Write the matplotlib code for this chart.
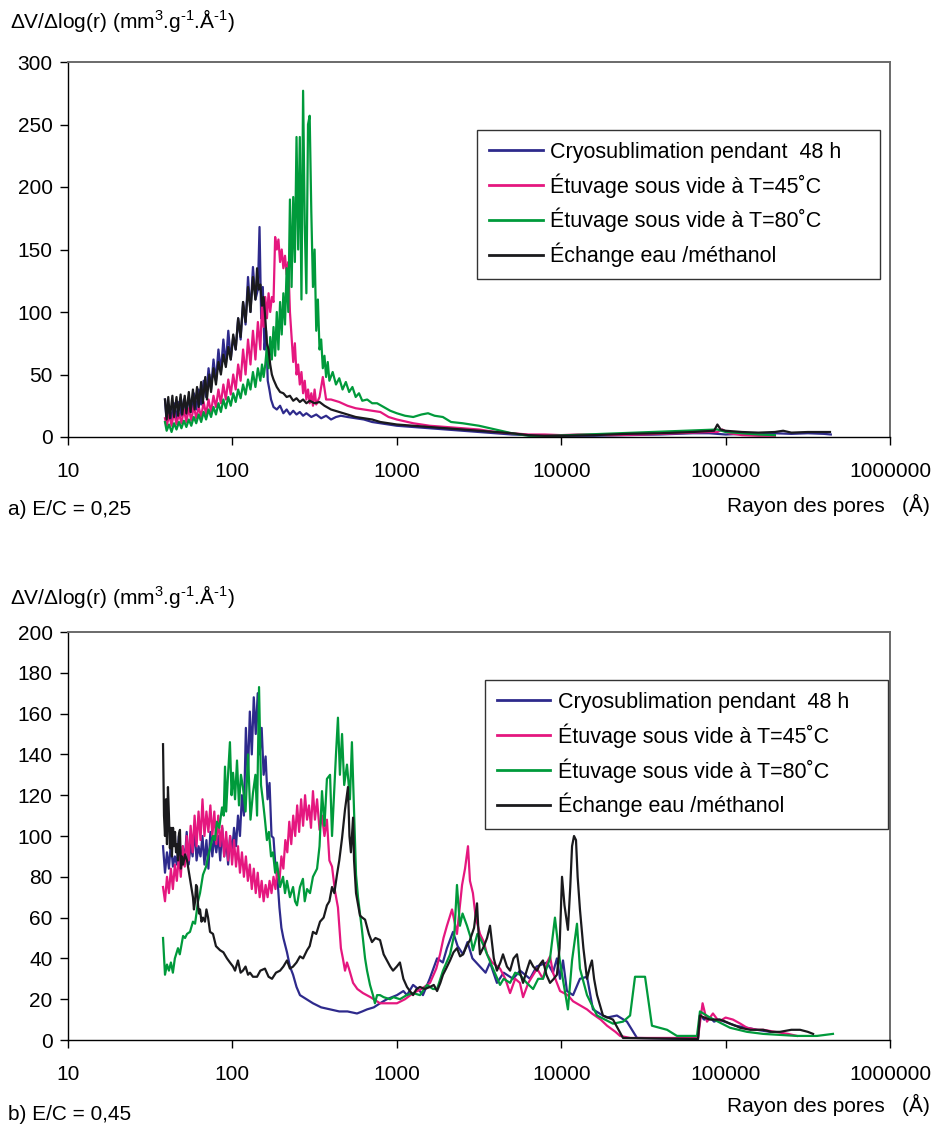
import numpy as np
import matplotlib
matplotlib.use("Agg")
import matplotlib.pyplot as plt
from matplotlib.ticker import FixedLocator, FuncFormatter, NullLocator

plt.rcParams["font.family"] = ["Liberation Sans", "DejaVu Sans"]
plt.rcParams["mathtext.default"] = "regular"

# ── Data: (log10 of pore radius in Å, dV/dlog(r)) ────────────────────────────
# a) E/C = 0.25
a_cryo = np.array([
    (1.59, 30), (1.60, 12), (1.615, 25), (1.63, 14), (1.645, 27), (1.66, 15), (1.675, 28), (1.69, 17),
    (1.705, 30), (1.72, 18), (1.735, 32), (1.75, 20), (1.765, 35), (1.78, 22), (1.795, 38), (1.81, 26),
    (1.825, 45), (1.84, 32), (1.855, 55), (1.87, 38), (1.885, 62), (1.90, 45), (1.915, 70), (1.93, 52),
    (1.945, 78), (1.96, 58), (1.975, 85), (1.99, 62), (2.005, 80), (2.02, 70), (2.035, 95), (2.05, 78),
    (2.065, 108), (2.08, 90), (2.095, 128), (2.11, 100), (2.125, 136), (2.14, 110), (2.155, 118),
    (2.165, 168), (2.175, 95), (2.185, 120), (2.195, 70), (2.205, 85), (2.215, 45), (2.225, 38),
    (2.235, 30), (2.25, 24), (2.27, 22), (2.29, 25), (2.31, 19), (2.33, 22), (2.35, 18), (2.37, 21),
    (2.39, 18), (2.41, 20), (2.43, 17), (2.45, 19), (2.48, 16), (2.51, 18), (2.54, 15), (2.57, 17),
    (2.60, 14), (2.63, 16), (2.66, 17), (2.70, 16), (2.75, 15), (2.80, 14), (2.85, 12), (2.90, 11),
    (2.95, 10), (3.0, 9), (3.1, 8), (3.2, 7), (3.3, 6), (3.4, 5), (3.5, 4), (3.6, 3), (3.7, 2),
    (3.8, 1.5), (3.9, 1), (4.0, 1), (4.2, 1), (4.4, 1.5), (4.6, 2), (4.8, 3), (4.9, 3), (5.0, 2),
    (5.1, 2.5), (5.2, 2), (5.3, 3), (5.4, 2.5), (5.5, 3), (5.6, 2.5), (5.64, 2),
])
a_t45 = np.array([
    (1.59, 15), (1.60, 8), (1.615, 18), (1.63, 9), (1.645, 20), (1.66, 10), (1.675, 19), (1.69, 11),
    (1.705, 22), (1.72, 12), (1.735, 23), (1.75, 13), (1.765, 25), (1.78, 15), (1.795, 24), (1.81, 16),
    (1.825, 28), (1.84, 18), (1.855, 30), (1.87, 20), (1.885, 33), (1.90, 24), (1.915, 38), (1.93, 27),
    (1.945, 42), (1.96, 30), (1.975, 46), (1.99, 34), (2.005, 50), (2.02, 38), (2.035, 58), (2.05, 45),
    (2.065, 70), (2.08, 50), (2.095, 78), (2.11, 58), (2.125, 85), (2.14, 62), (2.155, 92), (2.17, 70),
    (2.18, 105), (2.19, 88), (2.20, 112), (2.21, 95), (2.22, 115), (2.23, 100), (2.24, 112), (2.25, 108),
    (2.26, 160), (2.27, 150), (2.28, 158), (2.29, 140), (2.30, 150), (2.31, 135), (2.32, 145), (2.33, 130),
    (2.34, 140), (2.35, 100), (2.36, 80), (2.37, 60), (2.38, 75), (2.39, 50), (2.40, 58), (2.41, 42),
    (2.42, 52), (2.43, 35), (2.44, 45), (2.45, 30), (2.46, 38), (2.47, 27), (2.48, 35), (2.49, 25),
    (2.50, 38), (2.51, 26), (2.53, 32), (2.55, 48), (2.57, 30), (2.60, 30), (2.65, 28), (2.70, 25),
    (2.75, 23), (2.80, 22), (2.85, 21), (2.90, 20), (2.95, 16), (3.0, 14), (3.1, 11), (3.2, 9),
    (3.3, 8), (3.4, 7), (3.5, 6), (3.6, 4), (3.7, 3), (3.8, 2), (3.9, 2), (4.0, 1.5), (4.1, 2),
    (4.2, 2), (4.3, 1.5), (4.5, 2), (4.7, 3), (4.9, 4), (4.95, 4), (4.98, 6), (5.02, 3), (5.1, 1.5),
    (5.2, 1), (5.3, 1),
])
a_t80 = np.array([
    (1.59, 12), (1.60, 5), (1.615, 10), (1.63, 4), (1.645, 11), (1.66, 6), (1.675, 12), (1.69, 7),
    (1.705, 13), (1.72, 8), (1.735, 14), (1.75, 9), (1.765, 16), (1.78, 11), (1.795, 18), (1.81, 12),
    (1.825, 20), (1.84, 14), (1.855, 22), (1.87, 16), (1.885, 24), (1.90, 18), (1.915, 27), (1.93, 20),
    (1.945, 30), (1.96, 23), (1.975, 32), (1.99, 25), (2.005, 35), (2.02, 28), (2.035, 38), (2.05, 31),
    (2.065, 42), (2.08, 34), (2.095, 46), (2.11, 38), (2.125, 52), (2.14, 40), (2.155, 55), (2.17, 45),
    (2.18, 58), (2.19, 48), (2.20, 58), (2.21, 72), (2.22, 55), (2.23, 80), (2.24, 62), (2.25, 88),
    (2.26, 65), (2.27, 100), (2.28, 70), (2.29, 108), (2.30, 82), (2.31, 115), (2.32, 90), (2.33, 135),
    (2.34, 100), (2.35, 190), (2.36, 120), (2.37, 192), (2.38, 140), (2.39, 240), (2.40, 150), (2.41, 240),
    (2.42, 110), (2.43, 277), (2.44, 170), (2.45, 115), (2.46, 250), (2.47, 257), (2.48, 180), (2.49, 120),
    (2.50, 150), (2.51, 85), (2.52, 110), (2.53, 70), (2.54, 78), (2.55, 55), (2.56, 65), (2.57, 48),
    (2.58, 60), (2.59, 45), (2.61, 52), (2.63, 42), (2.65, 47), (2.67, 38), (2.69, 44), (2.71, 36),
    (2.73, 40), (2.75, 32), (2.77, 35), (2.79, 29), (2.82, 30), (2.85, 27), (2.88, 27), (2.92, 24),
    (2.96, 21), (3.0, 19), (3.05, 17), (3.1, 16), (3.15, 18), (3.19, 19), (3.23, 17), (3.28, 16),
    (3.33, 12), (3.4, 11), (3.5, 9), (3.6, 6), (3.7, 3), (3.8, 1), (3.85, 0.5), (4.95, 6), (5.0, 4),
    (5.1, 3), (5.2, 2), (5.3, 1.5),
])
a_meoh = np.array([
    (1.59, 30), (1.60, 14), (1.61, 32), (1.62, 15), (1.635, 33), (1.645, 16), (1.66, 32), (1.67, 17),
    (1.685, 34), (1.695, 18), (1.71, 33), (1.72, 19), (1.735, 36), (1.745, 20), (1.76, 38), (1.77, 22),
    (1.785, 40), (1.795, 24), (1.81, 44), (1.82, 27), (1.835, 48), (1.845, 30), (1.86, 50), (1.87, 36),
    (1.885, 55), (1.90, 42), (1.915, 60), (1.93, 50), (1.945, 66), (1.96, 56), (1.975, 72), (1.99, 62),
    (2.005, 82), (2.02, 70), (2.035, 95), (2.05, 80), (2.065, 108), (2.08, 92), (2.095, 120), (2.11, 100),
    (2.125, 128), (2.14, 110), (2.15, 135), (2.16, 118), (2.17, 122), (2.18, 105), (2.19, 112), (2.20, 95),
    (2.21, 75), (2.22, 70), (2.23, 58), (2.24, 50), (2.25, 46), (2.27, 40), (2.29, 36), (2.31, 35),
    (2.33, 32), (2.35, 33), (2.37, 29), (2.39, 31), (2.41, 28), (2.43, 30), (2.45, 27), (2.47, 29),
    (2.50, 27), (2.53, 28), (2.56, 25), (2.60, 22), (2.65, 20), (2.70, 18), (2.75, 16), (2.80, 15),
    (2.85, 14), (2.90, 12), (2.95, 11), (3.0, 10), (3.1, 9), (3.2, 8), (3.3, 7), (3.4, 6), (3.5, 5),
    (3.6, 4), (3.7, 3), (3.8, 1.5), (3.9, 1), (4.0, 1), (4.2, 1.5), (4.4, 2.5), (4.6, 3), (4.8, 4),
    (4.93, 5), (4.95, 10), (4.97, 6), (5.0, 5), (5.1, 4), (5.2, 3.5), (5.3, 4), (5.35, 5), (5.4, 3.5),
    (5.5, 4), (5.6, 4), (5.635, 4),
])

# b) E/C = 0.45
b_cryo = np.array([
    (1.578, 95), (1.59, 82), (1.602, 92), (1.614, 84), (1.626, 97), (1.638, 85), (1.65, 90), (1.662, 86),
    (1.674, 100), (1.686, 84), (1.698, 95), (1.71, 88), (1.722, 102), (1.734, 86), (1.746, 96), (1.758, 90),
    (1.77, 104), (1.782, 88), (1.794, 95), (1.806, 90), (1.818, 100), (1.83, 86), (1.842, 98), (1.854, 84),
    (1.866, 102), (1.878, 90), (1.89, 100), (1.902, 92), (1.914, 100), (1.926, 88), (1.938, 104), (1.95, 90),
    (1.962, 98), (1.974, 86), (1.986, 100), (1.998, 92), (2.01, 104), (2.022, 95), (2.034, 110), (2.046, 100),
    (2.058, 120), (2.07, 110), (2.082, 153), (2.094, 128), (2.106, 161), (2.118, 140), (2.13, 168), (2.142, 150),
    (2.154, 170), (2.166, 140), (2.178, 153), (2.19, 130), (2.202, 139), (2.214, 118), (2.226, 126), (2.238, 100),
    (2.25, 99), (2.262, 85), (2.274, 79), (2.286, 65), (2.298, 55), (2.31, 50), (2.332, 43), (2.35, 36),
    (2.369, 32), (2.39, 26), (2.411, 22), (2.45, 20), (2.49, 18), (2.54, 16), (2.594, 15), (2.65, 14),
    (2.70, 14), (2.758, 13), (2.79, 14), (2.819, 15), (2.86, 16), (2.898, 18), (2.94, 20), (3.001, 22),
    (3.04, 24), (3.062, 22), (3.099, 27), (3.13, 25), (3.159, 22), (3.20, 30), (3.245, 40), (3.28, 38),
    (3.305, 45), (3.342, 53), (3.37, 46), (3.403, 42), (3.43, 48), (3.46, 40), (3.506, 36), (3.54, 33),
    (3.567, 38), (3.609, 28), (3.65, 33), (3.707, 30), (3.75, 34), (3.81, 30), (3.85, 36), (3.914, 38),
    (3.95, 33), (3.974, 40), (3.993, 30), (4.011, 39), (4.035, 24), (4.072, 22), (4.114, 30), (4.157, 31),
    (4.193, 15), (4.254, 12), (4.279, 11), (4.339, 12), (4.40, 9), (4.461, 1), (4.832, 0.5), (4.844, 12),
    (4.87, 10), (4.905, 11), (4.93, 9), (4.96, 10), (5.027, 8), (5.06, 7), (5.13, 6), (5.19, 5), (5.27, 4),
])
b_t45 = np.array([
    (1.578, 75), (1.59, 68), (1.602, 80), (1.614, 72), (1.626, 84), (1.638, 74), (1.65, 86), (1.662, 78),
    (1.674, 90), (1.686, 80), (1.698, 95), (1.71, 85), (1.722, 100), (1.734, 88), (1.746, 105), (1.758, 92),
    (1.77, 110), (1.782, 95), (1.794, 112), (1.806, 98), (1.818, 118), (1.83, 100), (1.842, 112), (1.854, 102),
    (1.866, 115), (1.878, 100), (1.89, 112), (1.902, 96), (1.914, 110), (1.926, 95), (1.938, 105), (1.95, 90),
    (1.962, 102), (1.974, 88), (1.986, 100), (1.998, 86), (2.01, 98), (2.022, 85), (2.034, 95), (2.046, 82),
    (2.058, 92), (2.07, 80), (2.082, 90), (2.094, 78), (2.106, 86), (2.118, 74), (2.13, 84), (2.142, 72),
    (2.154, 82), (2.166, 70), (2.178, 78), (2.19, 68), (2.202, 76), (2.214, 70), (2.226, 78), (2.238, 72),
    (2.25, 80), (2.262, 74), (2.274, 84), (2.286, 78), (2.298, 90), (2.31, 84), (2.322, 98), (2.334, 92),
    (2.346, 107), (2.358, 96), (2.37, 110), (2.382, 100), (2.394, 115), (2.406, 102), (2.418, 118), (2.43, 105),
    (2.442, 120), (2.454, 108), (2.466, 115), (2.478, 104), (2.49, 122), (2.502, 108), (2.515, 118), (2.53, 103),
    (2.545, 110), (2.56, 100), (2.575, 108), (2.59, 88), (2.606, 85), (2.624, 73), (2.642, 65), (2.66, 45),
    (2.672, 40), (2.685, 34), (2.697, 38), (2.709, 35), (2.734, 28), (2.76, 25), (2.794, 23), (2.84, 21),
    (2.898, 18), (2.95, 18), (3.001, 18), (3.05, 20), (3.099, 23), (3.15, 25), (3.202, 28), (3.24, 35),
    (3.263, 42), (3.284, 50), (3.305, 56), (3.336, 64), (3.366, 52), (3.397, 76), (3.415, 84), (3.433, 95),
    (3.445, 78), (3.463, 72), (3.48, 60), (3.506, 52), (3.53, 48), (3.549, 42), (3.58, 38), (3.628, 35),
    (3.66, 30), (3.689, 23), (3.72, 30), (3.749, 28), (3.768, 21), (3.80, 28), (3.853, 35), (3.889, 30),
    (3.914, 38), (3.932, 41), (3.95, 33), (3.993, 24), (4.04, 22), (4.072, 19), (4.114, 17), (4.157, 15),
    (4.187, 13), (4.24, 10), (4.279, 7), (4.33, 4), (4.358, 2), (4.42, 1), (4.832, 1), (4.86, 18),
    (4.887, 9), (4.923, 13), (4.96, 9), (5.0, 11), (5.045, 10), (5.09, 8), (5.13, 6), (5.19, 5),
    (5.23, 5), (5.3, 4), (5.38, 3), (5.434, 2),
])
b_t80 = np.array([
    (1.578, 50), (1.59, 32), (1.602, 37), (1.614, 34), (1.626, 38), (1.638, 33), (1.65, 40), (1.669, 45),
    (1.68, 42), (1.70, 51), (1.712, 50), (1.724, 52), (1.742, 53), (1.76, 58), (1.773, 57), (1.791, 68),
    (1.803, 72), (1.821, 81), (1.84, 85), (1.852, 90), (1.864, 94), (1.882, 100), (1.894, 98), (1.906, 107),
    (1.92, 104), (1.937, 114), (1.947, 110), (1.955, 134), (1.962, 112), (1.972, 128), (1.985, 146), (1.995, 120),
    (2.004, 131), (2.016, 118), (2.028, 137), (2.04, 115), (2.052, 130), (2.064, 124), (2.08, 112), (2.095, 140),
    (2.11, 108), (2.125, 121), (2.14, 130), (2.15, 110), (2.162, 173), (2.174, 125), (2.186, 117), (2.198, 108),
    (2.21, 98), (2.222, 102), (2.235, 90), (2.247, 92), (2.26, 82), (2.271, 87), (2.29, 75), (2.308, 80),
    (2.32, 72), (2.332, 78), (2.35, 70), (2.369, 75), (2.381, 68), (2.393, 66), (2.411, 75), (2.429, 79),
    (2.44, 68), (2.454, 74), (2.472, 72), (2.49, 80), (2.515, 84), (2.53, 95), (2.545, 122), (2.56, 105),
    (2.575, 128), (2.594, 130), (2.606, 100), (2.618, 120), (2.63, 140), (2.642, 158), (2.654, 130), (2.667, 150),
    (2.68, 125), (2.697, 135), (2.715, 118), (2.727, 146), (2.74, 113), (2.752, 81), (2.764, 70), (2.788, 54),
    (2.807, 40), (2.819, 34), (2.837, 27), (2.855, 22), (2.867, 18), (2.88, 22), (2.898, 22), (2.92, 21),
    (2.959, 20), (2.98, 21), (3.019, 20), (3.06, 22), (3.099, 23), (3.141, 22), (3.184, 27), (3.22, 25),
    (3.245, 25), (3.281, 34), (3.324, 42), (3.35, 52), (3.366, 76), (3.384, 56), (3.40, 62), (3.427, 56),
    (3.45, 50), (3.463, 44), (3.49, 52), (3.506, 50), (3.53, 46), (3.549, 42), (3.585, 35), (3.628, 27),
    (3.65, 30), (3.689, 28), (3.72, 33), (3.749, 32), (3.79, 28), (3.829, 25), (3.86, 30), (3.889, 30),
    (3.932, 40), (3.962, 60), (3.993, 38), (4.041, 15), (4.066, 39), (4.096, 57), (4.114, 35), (4.157, 22),
    (4.218, 12), (4.315, 8), (4.376, 9), (4.419, 12), (4.449, 31), (4.51, 31), (4.552, 7), (4.644, 5),
    (4.704, 2), (4.826, 2), (4.844, 14), (4.905, 11), (5.027, 6), (5.13, 4), (5.228, 3), (5.434, 2),
    (5.556, 2), (5.653, 3),
])
b_meoh = np.array([
    (1.578, 145), (1.584, 110), (1.59, 100), (1.596, 118), (1.602, 96), (1.608, 124), (1.614, 110), (1.62, 94),
    (1.626, 104), (1.632, 90), (1.639, 104), (1.645, 95), (1.651, 102), (1.657, 92), (1.663, 96), (1.669, 88),
    (1.675, 101), (1.681, 103), (1.687, 84), (1.693, 90), (1.70, 86), (1.712, 91), (1.724, 88), (1.736, 82),
    (1.748, 76), (1.76, 70), (1.766, 64), (1.773, 68), (1.779, 76), (1.785, 75), (1.791, 66), (1.797, 62),
    (1.803, 64), (1.812, 58), (1.821, 60), (1.833, 58), (1.842, 64), (1.852, 60), (1.864, 53), (1.882, 52),
    (1.90, 46), (1.925, 44), (1.945, 43), (1.967, 40), (1.985, 38), (2.004, 36), (2.016, 34), (2.034, 39),
    (2.05, 33), (2.064, 34), (2.08, 36), (2.095, 32), (2.107, 33), (2.125, 31), (2.15, 31), (2.17, 34),
    (2.198, 35), (2.22, 31), (2.241, 30), (2.265, 33), (2.29, 34), (2.31, 36), (2.332, 39), (2.35, 35),
    (2.369, 36), (2.39, 38), (2.411, 41), (2.43, 40), (2.454, 44), (2.47, 46), (2.49, 53), (2.51, 52),
    (2.533, 58), (2.555, 60), (2.575, 66), (2.59, 68), (2.606, 75), (2.62, 72), (2.636, 81), (2.65, 88),
    (2.667, 99), (2.685, 113), (2.703, 124), (2.712, 100), (2.721, 92), (2.734, 109), (2.74, 88), (2.752, 72),
    (2.765, 66), (2.776, 61), (2.79, 60), (2.807, 59), (2.83, 52), (2.849, 48), (2.87, 50), (2.898, 49),
    (2.92, 42), (2.94, 39), (2.96, 36), (2.977, 34), (3.0, 36), (3.019, 38), (3.04, 30), (3.062, 26),
    (3.08, 24), (3.099, 22), (3.12, 25), (3.141, 26), (3.17, 25), (3.202, 26), (3.225, 27), (3.245, 24),
    (3.265, 28), (3.281, 32), (3.30, 35), (3.324, 39), (3.345, 43), (3.366, 45), (3.385, 41), (3.403, 42),
    (3.425, 46), (3.445, 49), (3.47, 55), (3.488, 67), (3.50, 48), (3.506, 42), (3.53, 46), (3.549, 50),
    (3.567, 56), (3.59, 40), (3.609, 34), (3.63, 38), (3.646, 42), (3.67, 36), (3.689, 34), (3.71, 40),
    (3.731, 42), (3.75, 33), (3.768, 28), (3.79, 34), (3.81, 39), (3.83, 36), (3.853, 34), (3.87, 37),
    (3.889, 39), (3.91, 32), (3.932, 28), (3.955, 30), (3.974, 32), (3.99, 45), (4.005, 80), (4.02, 66),
    (4.041, 54), (4.055, 75), (4.066, 95), (4.078, 100), (4.09, 98), (4.10, 80), (4.114, 64), (4.135, 45),
    (4.157, 30), (4.175, 36), (4.187, 39), (4.20, 30), (4.218, 22), (4.254, 12), (4.315, 10), (4.376, 1),
    (4.832, 0.5), (4.844, 12), (4.87, 11), (4.905, 10), (4.94, 10), (4.966, 10), (5.0, 9), (5.027, 8),
    (5.06, 7), (5.088, 6), (5.15, 5), (5.228, 5), (5.28, 4), (5.331, 4), (5.40, 5), (5.453, 5),
    (5.50, 4), (5.532, 3),
])

LABELS = [
    "Cryosublimation pendant  48 h",
    "Étuvage sous vide à T=45˚C",
    "Étuvage sous vide à T=80˚C",
    "Échange eau /méthanol",
]
COLORS = ["#2e2a8c", "#e5177f", "#009a3b", "#1a1a1d"]
RADIUS_TICKS = [10, 100, 1000, 10000, 100000, 1000000]

YLABEL = "ΔV/Δlog(r) (mm$^{3}$.g$^{\u20101}$.Å$^{\u20101}$)"
XLABEL = "Rayon des pores   (Å)"
FS = 15

# ── Figure layout (pixels of a 937 x 1131 canvas) ────────────────────────────
W, H = 937, 1131
fig = plt.figure(figsize=(W / 100, H / 100), dpi=100)


def px_box(left, top, right, bottom):
    return [left / W, 1 - bottom / H, (right - left) / W, (bottom - top) / H]


def draw_panel(ax, series, ymax, ystep, legend_bbox):
    for data, lab, col in zip(series, LABELS, COLORS):
        ax.plot(10 ** data[:, 0], data[:, 1], color=col, lw=1.6, label=lab)

    ax.set_xscale("log")
    ax.set_xlim(RADIUS_TICKS[0], RADIUS_TICKS[-1])
    ax.set_ylim(0, ymax)
    ax.xaxis.set_major_locator(FixedLocator(RADIUS_TICKS))
    ax.xaxis.set_minor_locator(NullLocator())
    ax.xaxis.set_major_formatter(FuncFormatter(lambda v, p: f"{v:.0f}"))
    ax.set_yticks(np.arange(0, ymax + 1, ystep))

    ax.tick_params(axis="x", direction="out", length=6, width=1, pad=12, labelsize=FS)
    ax.tick_params(axis="y", direction="out", length=6, width=1, pad=5, labelsize=FS)
    for side in ("left", "bottom"):
        ax.spines[side].set_color("black")
        ax.spines[side].set_linewidth(1.0)
    for side in ("top", "right"):
        ax.spines[side].set_color("#6a6a6a")
        ax.spines[side].set_linewidth(1.4)

    leg = ax.legend(loc="upper left", bbox_to_anchor=legend_bbox, mode="expand", borderaxespad=0,
                    fontsize=15.5, frameon=True, fancybox=False, edgecolor="black",
                    handlelength=2.5, handletextpad=0.35, borderpad=0.55, labelspacing=0.48)
    leg.get_frame().set_linewidth(1.0)
    for line in leg.get_lines():
        line.set_linewidth(2.0)


ax_a = fig.add_axes(px_box(68, 62, 890, 437))
draw_panel(ax_a, [a_cryo, a_t45, a_t80, a_meoh], 300, 50, (0.4976, 0.4187, 0.4903, 0.40))

ax_b = fig.add_axes(px_box(68, 632, 890, 1040))
draw_panel(ax_b, [b_cryo, b_t45, b_t80, b_meoh], 200, 20, (0.507, 0.51, 0.4903, 0.372))

# ── Labels ───────────────────────────────────────────────────────────────────
fig.text(10 / W, 1 - 20 / H, YLABEL, fontsize=FS, ha="left", va="center")
fig.text(930 / W, 1 - 505 / H, XLABEL, fontsize=FS, ha="right", va="center")
fig.text(8 / W, 1 - 510 / H, "a) E/C = 0,25", fontsize=FS, ha="left", va="center")

fig.text(10 / W, 1 - 597 / H, YLABEL, fontsize=FS, ha="left", va="center")
fig.text(930 / W, 1 - 1105 / H, XLABEL, fontsize=FS, ha="right", va="center")
fig.text(8 / W, 1 - 1115 / H, "b) E/C = 0,45", fontsize=FS, ha="left", va="center")

fig.savefig("out.png", dpi=100)
